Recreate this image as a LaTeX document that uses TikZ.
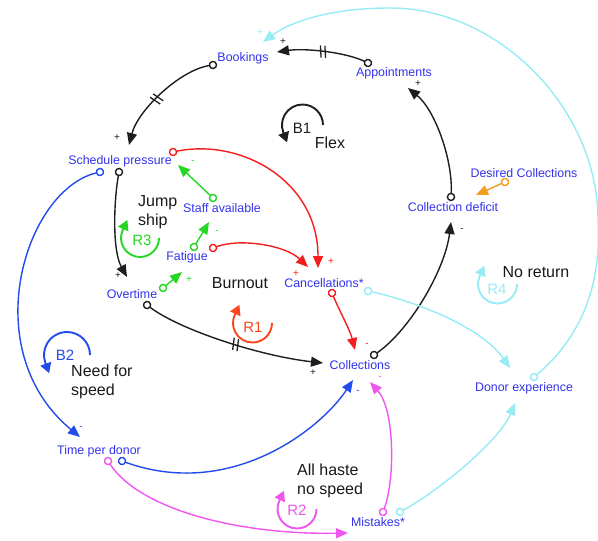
\documentclass[tikz,border=0pt]{standalone}
\usepackage{fontspec}
\setmainfont{Liberation Sans}
\usetikzlibrary{arrows.meta,decorations.markings}

\definecolor{varblue}{RGB}{50,50,235}
\definecolor{ink}{RGB}{30,30,30}
\definecolor{loopgray}{RGB}{25,25,25}
\definecolor{linkred}{RGB}{245,30,30}
\definecolor{linkgreen}{RGB}{35,215,35}
\definecolor{linkblue}{RGB}{35,75,235}
\definecolor{linkpink}{RGB}{240,85,240}
\definecolor{linkcyan}{RGB}{150,235,245}
\definecolor{linkorange}{RGB}{245,155,30}
\definecolor{loopred}{RGB}{250,70,30}

% loop symbol: centre x, centre y, radius, end angle (standard orientation),
% straight run-out for the arrow head, colour
\newcommand{\loopmark}[6]{%
  \begin{scope}[shift={(#1,#2)},y=1pt]
    \draw[loopsym,#6] (#3,0) arc[start angle=0,end angle=#4,radius=#3] -- ++(#5);
  \end{scope}}

\begin{document}
\begin{tikzpicture}[x=1pt,y=-1pt,
  var/.style={text=varblue,font=\fontsize{12.4}{14}\selectfont,inner sep=0pt},
  loopname/.style={text=loopgray,font=\fontsize{16}{19}\selectfont,inner sep=0pt,align=left},
  looplabel/.style={font=\fontsize{15}{17}\selectfont,inner sep=0pt},
  pol/.style={font=\fontsize{10}{10}\selectfont,inner sep=0pt},
  link/.style={line width=1.4pt,
    {Circle[length=8.5pt,width=8.5pt,fill=white]}-{Triangle[length=12pt,width=10pt]},
    shorten <=-4.2pt},
  delaymark/.style={postaction={decorate},decoration={markings,
    mark=at position #1 with {\draw[ink,line width=1.3pt,-,shorten <=0pt]
      (-3,-6)--(-1,6) (1.5,-6)--(3.5,6);}}},
  loopsym/.style={line width=1.9pt,-{Triangle[length=10pt,width=11pt]}},
]
\useasboundingbox (0,0) rectangle (598,541);

% tails (circles) and heads of the causal links
\coordinate (ap-o) at (368,63);   \coordinate (bk-i) at (277,52);
\coordinate (bk-o) at (213,65);   \coordinate (sp-i) at (129,145);
\coordinate (sp-o1) at (119,172); \coordinate (ot-i) at (127,277);
\coordinate (ot-o1) at (147,305); \coordinate (co-i1) at (323,363);
\coordinate (sp-o2) at (173,152); \coordinate (ca-i1) at (318,268);
\coordinate (fa-o2) at (213,248); \coordinate (ca-i2) at (308,267);
\coordinate (ca-o1) at (332,293); \coordinate (co-i2) at (355,350);
\coordinate (ot-o2) at (163,288); \coordinate (fa-i) at (182,272);
\coordinate (fa-o1) at (194,247); \coordinate (sa-i) at (209,222);
\coordinate (sa-o) at (213,198);  \coordinate (sp-i2) at (178,165);
\coordinate (sp-o3) at (100,172); \coordinate (tp-i) at (80,437);
\coordinate (tp-o1) at (122,461); \coordinate (co-i3) at (353,380);
\coordinate (tp-o2) at (108,461); \coordinate (mi-i) at (348,533);
\coordinate (mi-o1) at (383,512); \coordinate (co-i4) at (370,382);
\coordinate (ca-o2) at (368,291); \coordinate (de-i1) at (510,368);
\coordinate (mi-o2) at (400,512); \coordinate (de-i2) at (515,403);
\coordinate (de-o) at (534,377);  \coordinate (bk-i2) at (263,42);
\coordinate (co-o) at (374,355);  \coordinate (cd-i) at (451,222);
\coordinate (cd-o) at (451,197);  \coordinate (ap-i) at (408,88);
\coordinate (dc-o) at (505,182);  \coordinate (cd-i2) at (476,195);
\coordinate (arcE) at (598,220);  \coordinate (arcN) at (390,8);

% black links
\draw[link,ink,delaymark=0.5] (ap-o) .. controls (345,52) and (305,48) .. (bk-i);
\draw[link,ink,delaymark=0.55] (bk-o) .. controls (180,70) and (138,110) .. (sp-i);
\draw[link,ink] (sp-o1) .. controls (114,200) and (112,250) .. (ot-i);
\draw[link,ink,delaymark=0.52] (ot-o1) .. controls (180,330) and (260,356) .. (co-i1);
\draw[link,ink] (co-o) .. controls (410,330) and (445,270) .. (cd-i);
\draw[link,ink] (cd-o) .. controls (453,160) and (435,110) .. (ap-i);
% red links
\draw[link,linkred] (sp-o2) .. controls (240,138) and (318,180) .. (ca-i1);
\draw[link,linkred] (fa-o2) .. controls (240,238) and (285,245) .. (ca-i2);
\draw[link,linkred] (ca-o1) .. controls (340,312) and (350,330) .. (co-i2);
% green links
\draw[link,linkgreen] (ot-o2) -- (fa-i);
\draw[link,linkgreen] (fa-o1) -- (sa-i);
\draw[link,linkgreen] (sa-o) -- (sp-i2);
% blue links
\draw[link,linkblue] (sp-o3) .. controls (25,190) and (-25,350) .. (tp-i);
\draw[link,linkblue] (tp-o1) .. controls (230,500) and (320,430) .. (co-i3);
% pink links
\draw[link,linkpink] (tp-o2) .. controls (140,510) and (240,535) .. (mi-i);
\draw[link,linkpink] (mi-o1) .. controls (395,480) and (395,410) .. (co-i4);
% cyan links
\draw[link,linkcyan] (ca-o2) .. controls (410,300) and (480,325) .. (de-i1);
\draw[link,linkcyan] (mi-o2) .. controls (440,490) and (500,440) .. (de-i2);
\draw[link,linkcyan] (de-o) .. controls (578,340) and (602,290) .. (arcE)
  .. controls (598,110) and (500,8) .. (arcN)
  .. controls (330,8) and (290,22) .. (bk-i2);
% orange link
\draw[link,linkorange] (dc-o) -- (cd-i2);

% variables
\node[var] (bk) at (243,58) {Bookings};
\node[var] (ap) at (394,73) {Appointments};
\node[var] (sp) at (120,161) {Schedule pressure};
\node[var] (sa) at (222,208) {Staff available};
\node[var] (fa) at (187,257) {Fatigue};
\node[var] (ot) at (132,294) {Overtime};
\node[var] (ca) at (324,283) {Cancellations*};
\node[var] (co) at (360,365) {Collections};
\node[var] (cd) at (453,207) {Collection deficit};
\node[var] (dc) at (524,173) {Desired Collections};
\node[var] (tp) at (99,451) {Time per donor};
\node[var] (mi) at (378,522) {Mistakes*};
\node[var] (de) at (524,388) {Donor experience};

% polarities
\node[pol,text=ink] (p1) at (283,42) {+};
\node[pol,text=ink] (p2) at (418,84) {+};
\node[pol,text=ink] (p3) at (117,138) {+};
\node[pol,text=ink] (p4) at (118,276) {+};
\node[pol,text=linkgreen] (p5) at (193,162) {-};
\node[pol,text=linkgreen] (p6) at (217,232) {-};
\node[pol,text=linkgreen] (p7) at (189,280) {+};
\node[pol,text=linkred] (p8) at (296,274) {+};
\node[pol,text=linkred] (p9) at (331,262) {+};
\node[pol,text=linkred] (p10) at (367,345) {-};
\node[pol,text=ink] (p11) at (313,373) {+};
\node[pol,text=linkblue] (p12) at (358,392) {-};
\node[pol,text=linkpink] (p13) at (380,378) {-};
\node[pol,text=ink] (p14) at (462,230) {-};
\node[pol,text=linkblue] (p15) at (81,428) {-};
\node[pol,text=linkcyan] (p16) at (260,33) {+};

% loop symbols: balancing loops turn anticlockwise, reinforcing ones clockwise
\loopmark{302.5}{125}{20.5}{200}{3.8,-10.3}{ink}
\node[looplabel,text=ink] (b1) at (302,128) {B1};
\loopmark{140}{238}{19}{-205}{4.6,10}{linkgreen}
\node[looplabel,text=linkgreen] (r3) at (142,240) {R3};
\loopmark{252.5}{323}{19.5}{-205}{4.6,10}{loopred}
\node[looplabel,text=loopred] (r1) at (253,327) {R1};
\loopmark{297}{509}{19.5}{-205}{4.6,10}{linkpink}
\node[looplabel,text=linkpink] (r2) at (297,510) {R2};
\loopmark{497.5}{284}{19.5}{-205}{4.6,10}{linkcyan}
\node[looplabel,text=linkcyan] (r4) at (497,289) {R4};
\loopmark{67}{355}{23}{200}{3.8,-10.3}{linkblue}
\node[looplabel,text=linkblue] (b2) at (65,355) {B2};

% loop names
\node[loopname] (nflex) at (330,143) {Flex};
\node[loopname,anchor=west] (njump) at (138,212) {Jump\\ship};
\node[loopname] (nburn) at (240,283) {Burnout};
\node[loopname,anchor=west] (nspeed) at (71,382) {Need for\\speed};
\node[loopname,anchor=west] (nhaste) at (297,481) {All haste\\no speed};
\node[loopname] (nret) at (536,272) {No return};
\end{tikzpicture}
\end{document}
